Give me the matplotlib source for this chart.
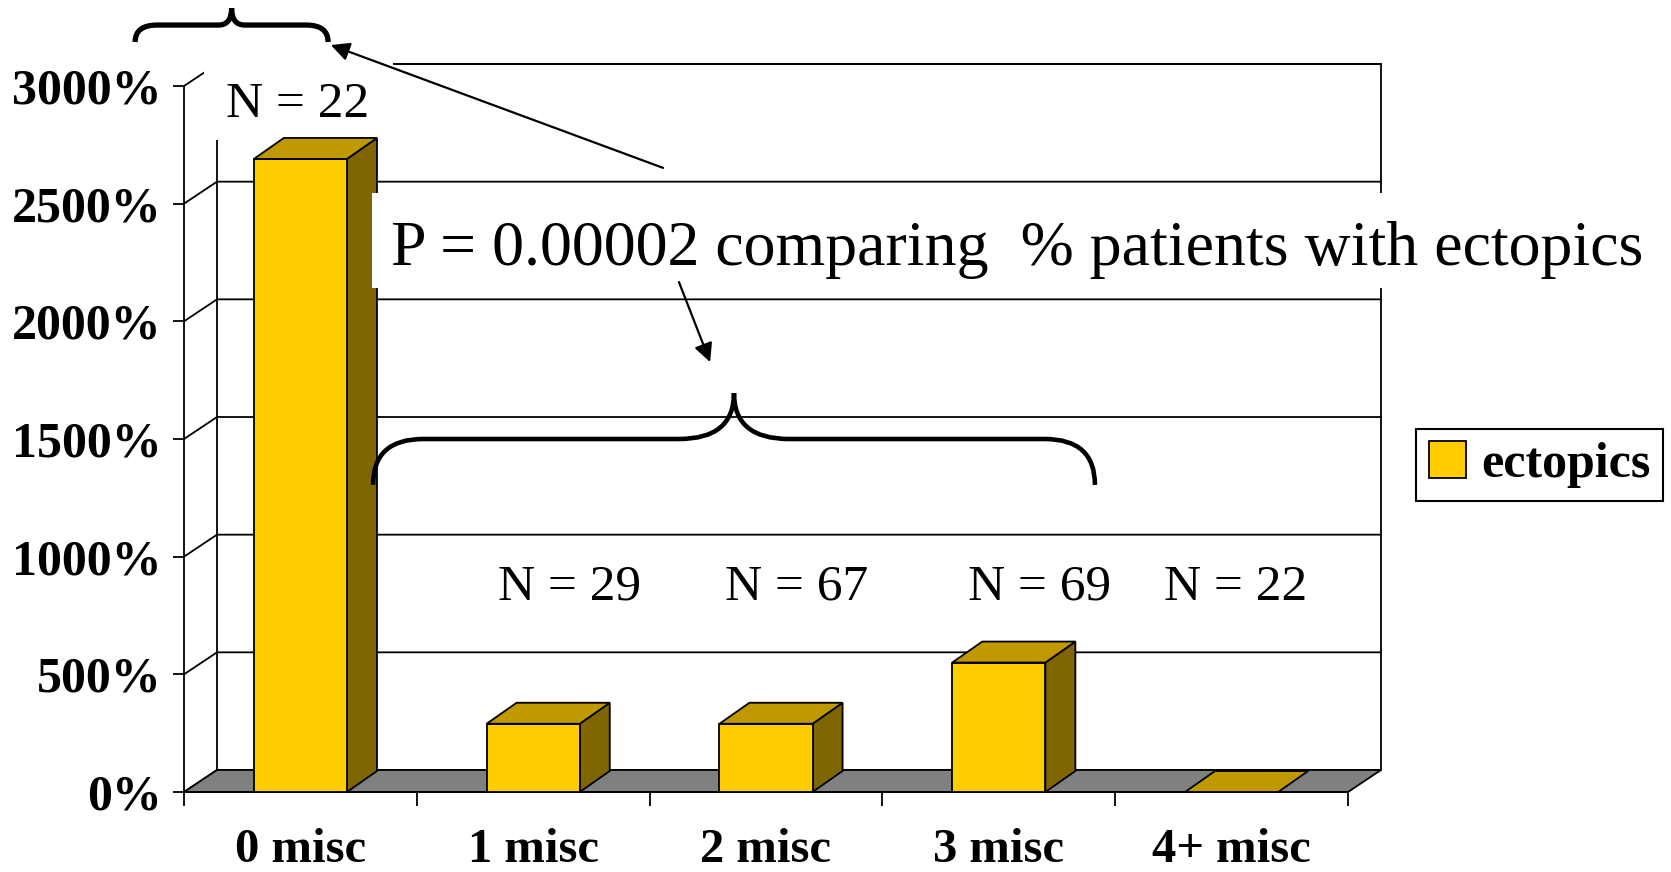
import matplotlib
matplotlib.use('Agg')
import matplotlib.pyplot as plt
import numpy as np
from matplotlib.patches import Polygon, Rectangle, Patch, PathPatch
from matplotlib.path import Path

categories = ['0 misc', '1 misc', '2 misc', '3 misc', '4+ misc']
ectopics = [2690, 290, 290, 550, 0]
n_patients = [22, 29, 67, 69, 22]
y_ticks = [0, 500, 1000, 1500, 2000, 2500, 3000]

FRONT = '#FFCC00'
TOP = '#C09900'
SIDE = '#806600'
FLOOR = '#808080'

plt.rcParams['font.family'] = 'Liberation Serif'

W, H, DPI = 1671, 872, 100
fig = plt.figure(figsize=(W / DPI, H / DPI), dpi=DPI)

# front plane of the 3d box, in pixels
ax_left, ax_bottom, ax_w, ax_h = 184, 80, 1164, 706
ax = fig.add_axes([ax_left / W, ax_bottom / H, ax_w / W, ax_h / H])
ax.set_xlim(0, len(categories))
ax.set_ylim(0, y_ticks[-1])
ax.patch.set_visible(False)

nx = len(categories)
ymax = y_ticks[-1]
# depth offset of the box / bars in data units
dx, dy = 33 * nx / ax_w, 22 * ymax / ax_h
bdx, bdy = 30 * nx / ax_w, 21 * ymax / ax_h

# back wall with gridlines and the side-wall diagonals
ax.add_patch(Rectangle((dx, dy), nx, ymax, facecolor='white', edgecolor='black',
                       lw=1.3, zorder=1, clip_on=False))
for v in y_ticks:
    ax.plot([0, dx, nx + dx], [v, v + dy, v + dy], color='black', lw=1.3,
            zorder=1, clip_on=False)

# floor
ax.add_patch(Polygon([(0, 0), (nx, 0), (nx + dx, dy), (dx, dy)], closed=True,
                     facecolor=FLOOR, edgecolor='black', lw=1.3, zorder=2, clip_on=False))

# bars
half = 0.2
for i, v in enumerate(ectopics):
    x0, x1 = i + 0.5 - half, i + 0.5 + half
    kw = dict(closed=True, edgecolor='black', lw=1.3, zorder=4, clip_on=False)
    if v > 0:
        ax.add_patch(Polygon([(x1, 0), (x1 + bdx, bdy), (x1 + bdx, v + bdy), (x1, v)],
                             facecolor=SIDE, **kw))
        ax.add_patch(Polygon([(x0, 0), (x1, 0), (x1, v), (x0, v)], facecolor=FRONT, **kw))
    ax.add_patch(Polygon([(x0, v), (x1, v), (x1 + bdx, v + bdy), (x0 + bdx, v + bdy)],
                         facecolor=TOP, **kw))

# axes
for s in ['top', 'right']:
    ax.spines[s].set_visible(False)
for s in ['left', 'bottom']:
    ax.spines[s].set_linewidth(1.3)
    ax.spines[s].set_zorder(3)
ax.set_yticks(y_ticks, [f'{v}%' for v in y_ticks], fontsize=36, fontweight='bold')
ax.tick_params(axis='y', direction='out', length=8, width=1.3, pad=8)
ax.set_xticks(np.arange(nx) + 0.5, categories, fontsize=35, fontweight='bold')
ax.set_xticks(np.arange(nx + 1), minor=True)
ax.tick_params(axis='x', which='major', length=0, pad=26)
ax.tick_params(axis='x', which='minor', direction='out', length=10, width=1.3)

# N labels
ax.add_patch(Rectangle((0.086, 2770), 0.812, 400, facecolor='white', edgecolor='none',
                       zorder=3.5, clip_on=False))
n_pos = [(0.49, 2920), (1.658, 870), (2.633, 870), (3.673, 870), (4.519, 870)]
for n, (xp, yp) in zip(n_patients, n_pos):
    ax.text(xp, yp, f'N = {n}', fontsize=37, ha='center', va='center', zorder=5,
            clip_on=False)

# p-value note
ax.add_patch(Rectangle((0.808, 2142), 6, 403, facecolor='white', edgecolor='none',
                       zorder=5, clip_on=False))
ax.text(0.889, 2305, 'P = 0.00002 comparing  % patients with ectopics', fontsize=46,
        ha='left', va='center', zorder=6, clip_on=False)


def brace(x0, x1, y_end, y_line, y_peak, r, rc, lw):
    xm = (x0 + x1) / 2
    verts = [(x0, y_end), (x0, y_line), (x0 + r, y_line),
             (xm - rc, y_line),
             (xm, y_line), (xm, y_peak),
             (xm, y_line), (xm + rc, y_line),
             (x1 - r, y_line),
             (x1, y_line), (x1, y_end)]
    codes = [Path.MOVETO, Path.CURVE3, Path.CURVE3, Path.LINETO,
             Path.CURVE3, Path.CURVE3, Path.CURVE3, Path.CURVE3,
             Path.LINETO, Path.CURVE3, Path.CURVE3]
    ax.add_patch(PathPatch(Path(verts, codes), facecolor='none', edgecolor='black',
                           lw=lw, capstyle='butt', joinstyle='miter', zorder=7,
                           clip_on=False))


brace(-0.21, 0.619, 3187, 3259, 3331, 0.0945, 0.056, 3.8)
brace(0.812, 3.913, 1305, 1500, 1695, 0.215, 0.236, 3.3)

arrow = dict(arrowstyle='-|>', lw=1.6, color='black', mutation_scale=28,
             shrinkA=0, shrinkB=0)
ax.annotate('', xy=(0.631, 3174), xytext=(2.058, 2652), arrowprops=arrow,
            annotation_clip=False, zorder=7)
ax.annotate('', xy=(2.26, 1827), xytext=(2.126, 2167), arrowprops=arrow,
            annotation_clip=False, zorder=7)

leg = fig.legend(handles=[Patch(facecolor=FRONT, edgecolor='black', lw=1.3, label='ectopics')],
                 loc='upper left', bbox_to_anchor=(1416 / W, 1 - 429 / H),
                 prop={'size': 36, 'weight': 'bold'}, frameon=True, fancybox=False,
                 edgecolor='black', framealpha=1, borderpad=0.25, handlelength=0.75,
                 handleheight=0.75, handletextpad=0.3, borderaxespad=0)
leg.get_frame().set_linewidth(1.5)

fig.savefig('out.png', dpi=DPI)
